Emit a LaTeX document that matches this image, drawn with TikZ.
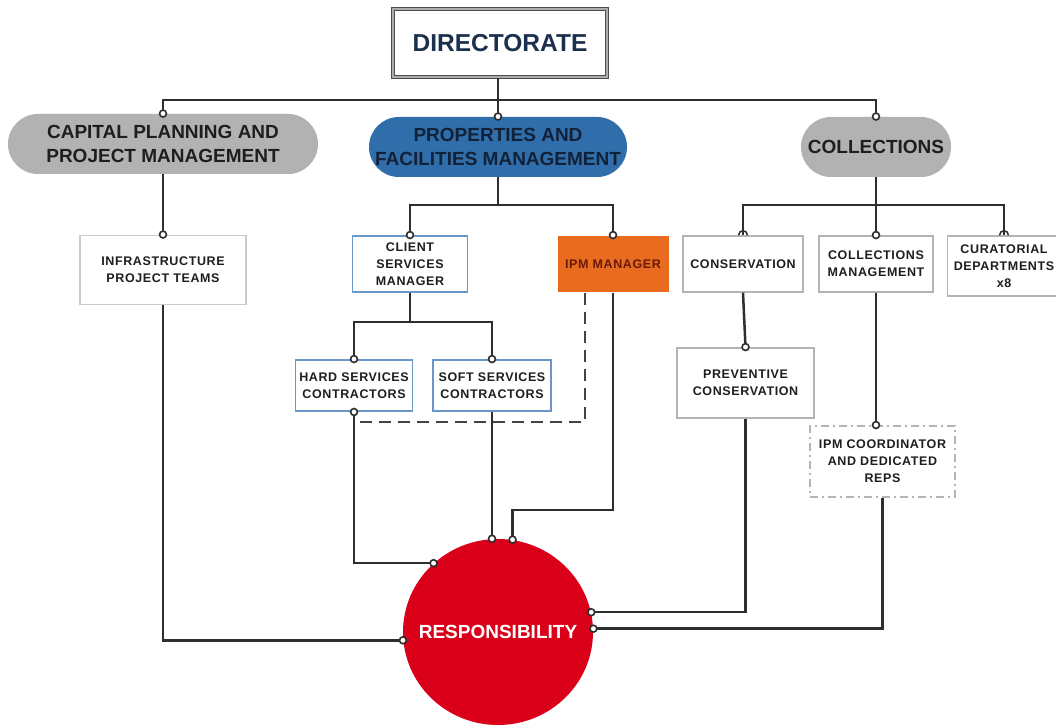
\documentclass[tikz,border=0pt]{standalone}
\usepackage{fontspec}
\setmainfont{Liberation Sans}
\newfontfamily\boxfont[LetterSpace=5]{Liberation Sans}
\usetikzlibrary{arrows.meta,shapes.geometric,calc}
\definecolor{lineC}{HTML}{2E2E2E}
\definecolor{pillgray}{HTML}{B2B2B2}
\definecolor{pillblue}{HTML}{2F6EAA}
\definecolor{ipmorange}{HTML}{E96B1F}
\definecolor{respred}{HTML}{DB0019}
\definecolor{boxgray}{HTML}{B4B4B4}
\definecolor{boxblue}{HTML}{6A96C8}
\definecolor{navy}{HTML}{1B2F4E}
\definecolor{textdark}{HTML}{1E1E1E}
\definecolor{ipmtext}{HTML}{6A1A05}
\tikzset{
  oc/.tip={Circle[length=8.5pt,width=8.5pt,fill=white,line width=1.6pt]},
  conn/.style={draw=lineC,line width=2.5pt},
  tipend/.style={-oc,shorten >=-4pt},
  tipboth/.style={oc-oc,shorten >=-4pt,shorten <=-4pt},
  dirbox/.style={draw=gray!60!black,line width=1.3pt,double=gray!65,double distance=2pt,fill=white,
    minimum width=214pt,minimum height=68pt,inner sep=0pt,text=navy,
    font=\bfseries\fontsize{24.5}{28}\selectfont},
  pill/.style={rounded corners=29.9pt,minimum height=60pt,inner sep=0pt,align=center,
    text=textdark,font=\bfseries\fontsize{19}{24}\selectfont},
  box/.style={draw=boxgray,line width=1.4pt,fill=white,inner sep=0pt,align=center,
    text=textdark,font=\boxfont\bfseries\fontsize{12.5}{17}\selectfont},
  bluebox/.style={box,draw=boxblue},
  hat/.style={draw=lineC,line width=1.5pt},
}
\begin{document}
\begin{tikzpicture}[x=1pt,y=-1pt]
\useasboundingbox[fill=white] (0,0) rectangle (1056,727);

% nodes
\node[dirbox] (dir) at (500,43) {DIRECTORATE};
\node[pill,fill=pillgray,minimum width=310pt] (cap) at (163,144) {CAPITAL PLANNING AND\\PROJECT MANAGEMENT};
\node[pill,fill=pillblue,minimum width=258pt,text=navy!70!black] (pfm) at (498,147) {PROPERTIES AND\\FACILITIES MANAGEMENT};
\node[pill,fill=pillgray,minimum width=150pt] (coll) at (876,147) {COLLECTIONS};

\node[box,draw=boxgray!70,minimum width=166pt,minimum height=69pt] (infra) at (163,270) {INFRASTRUCTURE\\PROJECT TEAMS};
\node[bluebox,minimum width=115pt,minimum height=56pt] (client) at (410,264) {CLIENT\\SERVICES\\MANAGER};
\node[box,draw=none,fill=ipmorange,text=ipmtext,minimum width=111pt,minimum height=56pt] (ipm) at (613,264) {IPM MANAGER};
\node[bluebox,minimum width=117pt,minimum height=51pt] (hard) at (354,385.5) {HARD SERVICES\\CONTRACTORS};
\node[bluebox,minimum width=118pt,minimum height=51pt] (soft) at (492,385.5) {SOFT SERVICES\\CONTRACTORS};

\node[box,minimum width=120pt,minimum height=56pt] (cons) at (743,264) {CONSERVATION};
\node[box,minimum width=114pt,minimum height=56pt] (collm) at (876,264) {COLLECTIONS\\MANAGEMENT};
\node[box,minimum width=113pt,minimum height=60pt] (cur) at (1004,266) {CURATORIAL\\DEPARTMENTS\\x8};
\node[box,minimum width=137pt,minimum height=70pt] (prev) at (745.5,383) {PREVENTIVE\\CONSERVATION};
\node[box,dash pattern=on 8pt off 4pt on 2pt off 4pt,minimum width=145pt,minimum height=71pt] (ipmc) at (882.5,461.5) {IPM COORDINATOR\\AND DEDICATED\\REPS};

\node[ellipse,fill=respred,minimum width=190pt,minimum height=186pt,inner xsep=-30pt,inner ysep=0pt,text=white,
  font=\bfseries\fontsize{19}{22}\selectfont] (resp) at (498,632) {RESPONSIBILITY};

% coordinates
\coordinate (bus) at (498,100);
\coordinate (pbus) at (498,205);
\coordinate (cbus) at (410,322);
\coordinate (kbus) at (876,205);
\coordinate (dcorner) at (585,422);
\coordinate (ipmturn) at (613,510);

% connectors
\draw[conn] (dir.south -| bus) -- (bus);
\draw[conn,tipend] (bus) -| (cap.north);
\draw[conn,tipend] (bus) -- (pfm.north);
\draw[conn,tipend] (bus) -| (coll.north);

\draw[conn,tipend] (cap.south) -- (infra.north);

\draw[conn] (pfm.south) -- (pbus);
\draw[conn,tipend] (pbus) -| (client.north);
\draw[conn,tipend] (pbus) -| (ipm.north);
\draw[conn] (client.south) -- (cbus);
\draw[conn,tipend] (cbus) -| (hard.north);
\draw[conn,tipend] (cbus) -| (soft.north);

\draw[draw=lineC!90,line width=2.5pt,dash pattern=on 12pt off 7pt] (ipm.south -| dcorner) -- (dcorner) -- ([xshift=5pt]dcorner -| hard.south);

\draw[conn] (coll.south) -- (kbus);
\draw[conn] (kbus) -| (cons.north);
\draw[conn] (kbus) -| (cur.north);
\draw[conn,tipend] (kbus) -- (collm.north);
\draw[conn,tipend] (cons.south) -- (prev.north);
\draw[conn,tipend] (collm.south) -- (collm.south |- ipmc.north);

% small hats where lines meet conservation and curatorial
\draw[hat] ([xshift=-4.5pt]cons.north) .. controls +(0,-6) and +(0,-6) .. ([xshift=4.5pt]cons.north);
\draw[hat] ([xshift=-4.5pt]cur.north) .. controls +(0,-6) and +(0,-6) .. ([xshift=4.5pt]cur.north);

% to responsibility
\draw[conn,tipboth] (hard.south) |- (resp.133);
\draw[conn,tipend] (soft.south) -- (soft.south |- resp.94);
\draw[conn,tipend] (ipm.south) -- (ipmturn) -| (resp.81);
\draw[conn,tipend] (infra.south) |- (resp.185);
\draw[conn,tipend] (prev.south) |- (resp.12);
\draw[conn,tipend] (ipmc.south) |- (resp.2);
\end{tikzpicture}
\end{document}
